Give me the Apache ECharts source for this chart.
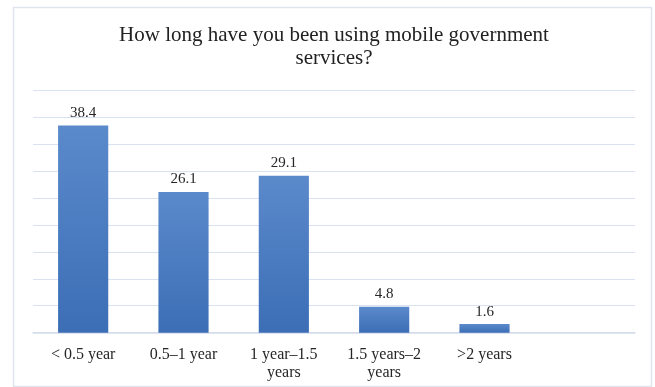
<!DOCTYPE html>
<html>
<head>
<meta charset="utf-8">
<script src="https://cdn.jsdelivr.net/npm/echarts@6/dist/echarts.min.js"></script>
<style>
html,body{margin:0;padding:0;background:#fff;}
#c{width:655px;height:387px;}
</style>
</head>
<body>
<div id="c"></div>
<script>
const titleText = "How long have you been using mobile government\nservices?";
const categories = ["< 0.5 year", "0.5\u20131 year", "1 year\u20131.5\nyears", "1.5 years\u20132\nyears", ">2 years", ""];
const values = [38.4, 26.1, 29.1, 4.8, 1.6, null];
const yMin = 0, yMax = 45, yInterval = 5;

const chart = echarts.init(document.getElementById('c'), null, {renderer: 'canvas'});
const serif = '"Liberation Serif", "Times New Roman", serif';
chart.setOption({
  backgroundColor: '#ffffff',
  animation: false,
  graphic: [{
    type: 'rect', left: 11, top: 5, shape: {width: 638, height: 379},
    style: {fill: 'none', stroke: '#dfe5ee', lineWidth: 1.5}, z: -1
  }],
  title: {
    text: titleText, left: 329, top: 19, textAlign: 'center',
    textStyle: {fontFamily: serif, fontSize: 21, fontWeight: 'normal', color: '#222222', lineHeight: 23}
  },
  grid: {left: 33, right: 20, top: 90, bottom: 54.3, containLabel: false},
  xAxis: {
    type: 'category', data: categories,
    axisLine: {show: true, lineStyle: {color: '#d4dceb', width: 1.5}},
    axisTick: {show: false},
    axisLabel: {fontFamily: serif, fontSize: 16, color: '#262626', margin: 13, lineHeight: 18, interval: 0}
  },
  yAxis: {
    type: 'value', min: yMin, max: yMax, interval: yInterval,
    axisLine: {show: false}, axisTick: {show: false}, axisLabel: {show: false},
    splitLine: {lineStyle: {color: '#d9e2f0', width: 1.2}}
  },
  series: [{
    type: 'bar', data: values, barWidth: '50%',
    itemStyle: {
      color: new echarts.graphic.LinearGradient(0, 0, 0, 1, [
        {offset: 0, color: '#5b8acb'},
        {offset: 1, color: '#3c6eb6'}
      ])
    },
    label: {show: true, position: 'top', distance: 5, fontFamily: serif, fontSize: 15, color: '#262626',
      formatter: p => p.value.toFixed(1)}
  }]
});
</script>
</body>
</html>
